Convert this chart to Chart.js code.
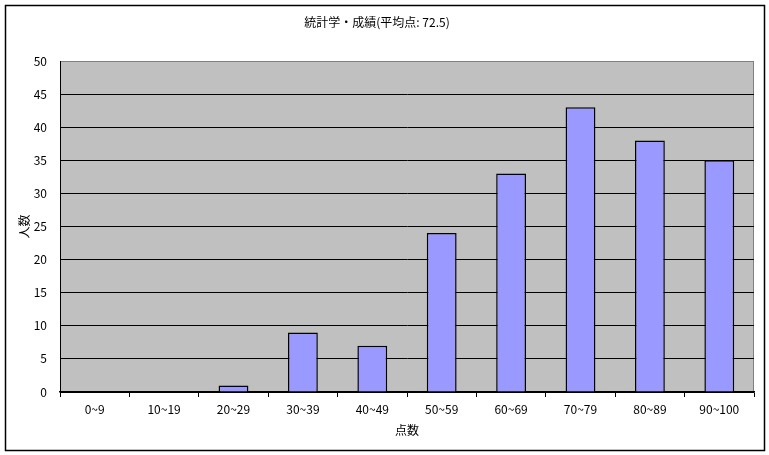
<!DOCTYPE html>
<html>
<head>
<meta charset="utf-8">
<script src="https://cdn.jsdelivr.net/npm/chart.js@4/dist/chart.umd.min.js"></script>
<style>
  html, body { margin: 0; padding: 0; background: #fff; }
  canvas { display: block; }
</style>
</head>
<body>
<canvas id="chart" width="769" height="455"></canvas>
<script>
'use strict';

/* データ */
const CATEGORIES = ['0~9', '10~19', '20~29', '30~39', '40~49', '50~59', '60~69', '70~79', '80~89', '90~100'];
const COUNTS     = [0, 0, 1, 9, 7, 24, 33, 43, 38, 35];
const Y_TICKS    = [0, 5, 10, 15, 20, 25, 30, 35, 40, 45, 50];
const TITLE      = '統計学・成績(平均点: 72.5)';
const X_TITLE    = '点数';
const Y_TITLE    = '人数';

const FONT = "'Noto Sans CJK JP', 'DejaVu Sans', sans-serif";

/* 背景・枠線 */
const frame = {
  id: 'frame',
  beforeDraw(chart) {
    const { ctx, chartArea: a } = chart;
    ctx.save();
    ctx.fillStyle = '#fff';
    ctx.fillRect(0, 0, chart.width, chart.height);
    ctx.fillStyle = '#c0c0c0';
    ctx.fillRect(a.left, a.top, a.right - a.left, a.bottom - a.top);
    ctx.strokeStyle = '#808080';
    ctx.lineWidth = 1;
    ctx.strokeRect(a.left + 0.5, a.top + 0.5, a.right - a.left - 1, a.bottom - a.top);
    ctx.strokeStyle = '#000';
    ctx.lineWidth = 1.5;
    ctx.strokeRect(5.5, 5.5, 759, 445);
    ctx.restore();
  }
};

new Chart(document.getElementById('chart'), {
  type: 'bar',
  data: {
    labels: CATEGORIES,
    datasets: [{
      data: COUNTS,
      backgroundColor: '#9999ff',
      borderColor: '#000',
      borderWidth: 1.5,
      barPercentage: 0.43,
      categoryPercentage: 1.0
    }]
  },
  options: {
    responsive: false,
    animation: false,
    devicePixelRatio: 1,
    layout: { padding: { left: 0, right: 15, top: 0, bottom: 0 } },
    plugins: {
      legend: { display: false },
      tooltip: { enabled: false },
      title: {
        display: true,
        text: TITLE,
        color: '#000',
        font: { family: FONT, size: 12, weight: 'normal' },
        padding: { top: 15, bottom: 31.6 }
      }
    },
    scales: {
      x: {
        grid: { drawOnChartArea: false, drawTicks: true, tickLength: 5, color: '#000' },
        border: { display: true, color: '#000', width: 1.5 },
        ticks: { color: '#000', font: { family: FONT, size: 12 }, padding: 5, maxRotation: 0 },
        title: {
          display: true, text: X_TITLE, color: '#000',
          font: { family: FONT, size: 12 },
          padding: { top: 0, bottom: 17 }
        },
        afterFit(scale) { scale.height = 63; }
      },
      y: {
        min: 0, max: 50,
        afterBuildTicks(scale) { scale.ticks = Y_TICKS.map(v => ({ value: v })); },
        grid: {
          drawTicks: false,
          color: ctx => (ctx.tick && ctx.tick.value === 50 ? '#808080' : '#000')
        },
        border: { display: true, color: '#000' },
        ticks: { color: '#000', font: { family: FONT, size: 12 }, padding: 13 },
        title: {
          display: true, text: Y_TITLE, color: '#000',
          font: { family: FONT, size: 12 },
          padding: { top: 17, bottom: 0 }
        },
        afterFit(scale) { scale.width = 60; }
      }
    }
  },
  plugins: [frame]
});
</script>
</body>
</html>
